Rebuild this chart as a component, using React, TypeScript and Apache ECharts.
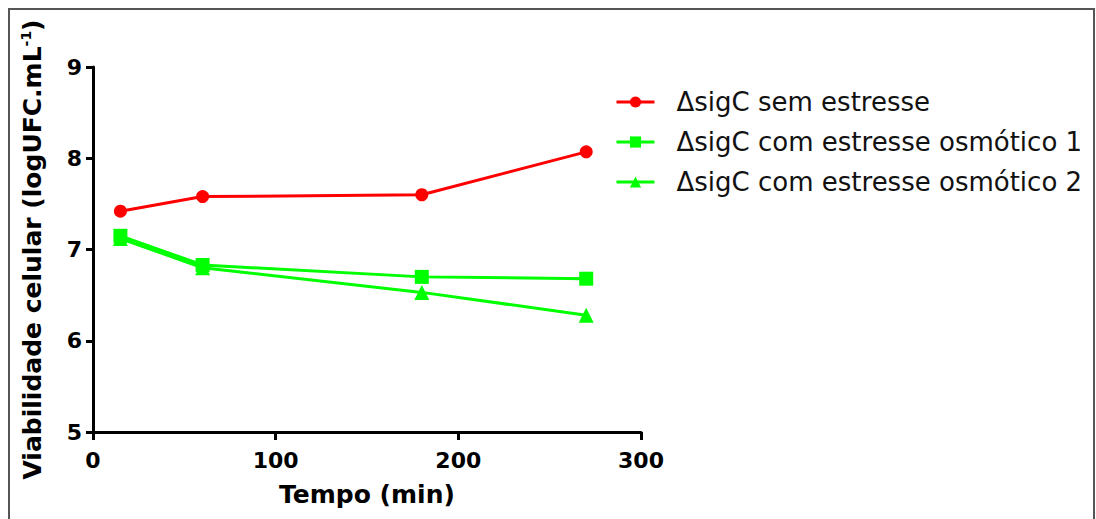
import React, { useEffect, useRef } from "react";
import * as echarts from "echarts";

const times = [15, 60, 180, 270];
const semEstresse = [7.42, 7.58, 7.6, 8.07];
const osmotico1 = [7.15, 6.83, 6.7, 6.68];
const osmotico2 = [7.12, 6.8, 6.53, 6.28];
const seriesNames = [
  "\u0394sigC sem estresse",
  "\u0394sigC com estresse osm\u00f3tico 1",
  "\u0394sigC com estresse osm\u00f3tico 2",
];
const xTitle = "Tempo (min)";
const yTitleMain = "Viabilidade celular (logUFC.mL";
const yTitleSup = "-1";

const pair = (xs: number[], ys: number[]) => xs.map((x, i) => [x, ys[i]]);

export default function App() {
  const ref = useRef<HTMLDivElement>(null);
  useEffect(() => {
    if (!ref.current) return;
    const chart = echarts.init(ref.current, undefined, { renderer: "svg" });
    const tickFont = {
      fontFamily: "DejaVu Sans",
      fontWeight: "bold" as const,
      fontSize: 22,
      color: "#000",
    };
    const mk = (name: string, data: number[][], color: string, symbol: string, size: number) => ({
      name,
      type: "line",
      data,
      symbol,
      symbolSize: size,
      showAllSymbol: true,
      lineStyle: { color, width: 3 },
      itemStyle: { color },
      emphasis: { disabled: true },
    });
    chart.setOption({
      animation: false,
      backgroundColor: "#fff",
      grid: { left: 93, right: 455, top: 67, bottom: 87, containLabel: false },
      legend: {
        orient: "vertical",
        left: 615,
        top: 89,
        padding: 0,
        itemWidth: 38,
        itemHeight: 14,
        itemGap: 14,
        lineStyle: { width: 3 },
        textStyle: {
          fontFamily: "DejaVu Sans",
          fontSize: 26,
          color: "#111",
          padding: [0, 0, 0, 17],
        },
        data: seriesNames,
      },
      xAxis: {
        type: "value",
        min: 0,
        max: 300,
        interval: 100,
        name: xTitle,
        nameLocation: "middle",
        nameGap: 50,
        nameTextStyle: { fontFamily: "DejaVu Sans", fontWeight: "bold", fontSize: 25, color: "#000" },
        axisLine: { show: true, onZero: false, lineStyle: { color: "#000", width: 3 } },
        axisTick: { show: true, length: 8, lineStyle: { color: "#000", width: 3 } },
        axisLabel: { ...tickFont, margin: 17 },
        splitLine: { show: false },
      },
      yAxis: {
        type: "value",
        min: 5,
        max: 9,
        interval: 1,
        name: `{t|${yTitleMain}}{s|${yTitleSup}}{t|)}`,
        nameLocation: "middle",
        nameGap: 48,
        nameTextStyle: {
          rich: {
            t: { fontFamily: "DejaVu Sans", fontWeight: "bold", fontSize: 25, color: "#000", lineHeight: 26 },
            s: { fontFamily: "DejaVu Sans", fontWeight: "bold", fontSize: 14, color: "#000", verticalAlign: "top", lineHeight: 14 },
          },
        },
        axisLine: { show: true, lineStyle: { color: "#000", width: 3 } },
        axisTick: { show: true, length: 7, lineStyle: { color: "#000", width: 3 } },
        axisLabel: { ...tickFont, margin: 11 },
        splitLine: { show: false },
      },
      graphic: [
        {
          type: "rect",
          shape: { x: 9, y: 9, width: 1085, height: 600 },
          style: { fill: "none", stroke: "#555", lineWidth: 2 },
          silent: true,
        },
      ],
      series: [
        mk(seriesNames[0], pair(times, semEstresse), "#ff0000", "circle", 13),
        mk(seriesNames[1], pair(times, osmotico1), "#00ff00", "rect", 14),
        mk(seriesNames[2], pair(times, osmotico2), "#00ff00", "triangle", 15),
      ],
    });
    return () => chart.dispose();
  }, []);
  return (
    <div
      ref={ref}
      style={{ position: "fixed", left: 0, top: 0, width: 1096, height: 519, background: "#fff" }}
    />
  );
}
